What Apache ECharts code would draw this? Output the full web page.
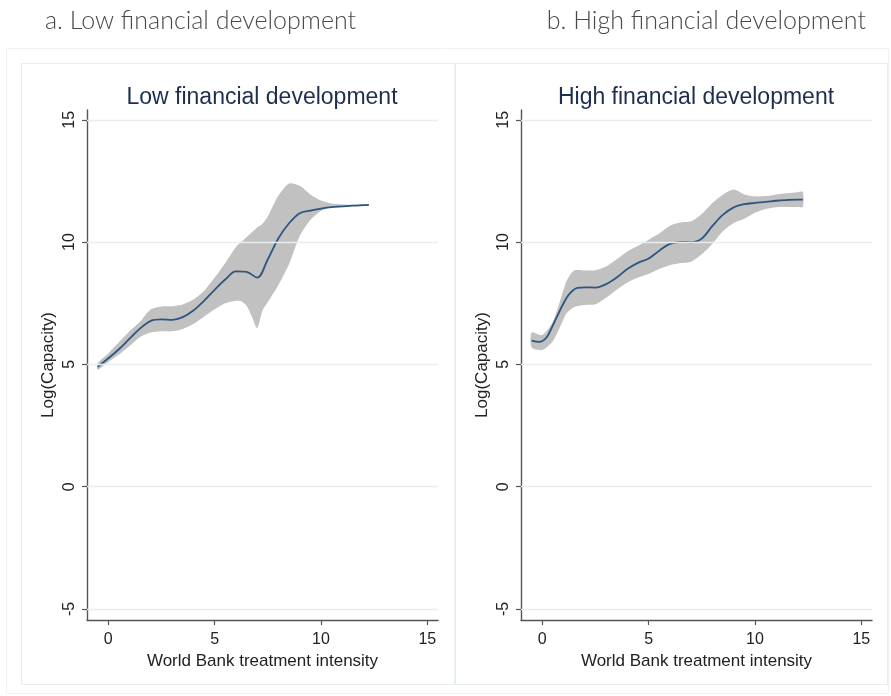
<!DOCTYPE html>
<html>
<head>
<meta charset="utf-8">
<script src="https://cdn.jsdelivr.net/npm/echarts@6/dist/echarts.min.js"></script>
<style>
  html, body { margin: 0; padding: 0; background: #ffffff; }
  #chart { width: 891px; height: 696px; }
</style>
</head>
<body>
<div id="chart"></div>
<script>
// Panel titles
const panelHeaders = ['a. Low financial development', 'b. High financial development'];
const panelTitles = ['Low financial development', 'High financial development'];
const xAxisTitle = 'World Bank treatment intensity';
const yAxisTitle = 'Log(Capacity)';
const xTicks = [0, 5, 10, 15];
const yTicks = [-5, 0, 5, 10, 15];

// Low financial development: fitted curve
const lowFitX = [-0.5, 0, 0.5, 1, 1.5, 2, 2.5, 3, 3.5, 4, 4.5, 5, 5.5, 6, 6.5, 7, 7.5, 8, 8.5, 9, 9.5, 10, 10.5, 11, 11.5, 12, 12.25];
const lowFitY = [4.9, 5.25, 5.62, 6.05, 6.47, 6.78, 6.84, 6.82, 6.93, 7.2, 7.6, 8.05, 8.47, 8.8, 8.78, 8.55, 9.3, 10.16, 10.77, 11.18, 11.29, 11.37, 11.43, 11.46, 11.49, 11.51, 11.52];
// Low financial development: confidence band
const lowBandX = [-0.5, 0, 0.5, 1, 1.5, 2, 2.5, 3, 3.5, 4, 4.5, 5, 5.5, 6, 6.25, 6.5, 6.75, 7, 7.25, 7.5, 8, 8.5, 9, 9.5, 10, 10.5, 11, 11.5, 12, 12.25];
const lowBandUpper = [5.05, 5.45, 5.9, 6.35, 6.75, 7.25, 7.37, 7.38, 7.45, 7.65, 8.0, 8.55, 9.15, 9.8, 10.0, 10.2, 10.4, 10.6, 10.75, 11.05, 11.9, 12.4, 12.3, 11.95, 11.7, 11.58, 11.54, 11.53, 11.54, 11.54];
const lowBandLower = [4.78, 5.1, 5.4, 5.75, 6.12, 6.3, 6.35, 6.35, 6.45, 6.65, 6.95, 7.25, 7.5, 7.6, 7.58, 7.4, 6.95, 6.48, 7.2, 7.55, 8.25, 9.1, 10.25, 10.9, 11.27, 11.43, 11.46, 11.48, 11.49, 11.5];

// High financial development: fitted curve
const highFitX = [-0.5, -0.15, 0.2, 0.5, 1, 1.3, 1.65, 2, 2.5, 3, 3.5, 4, 4.5, 5, 5.5, 6, 6.5, 7, 7.5, 8, 8.5, 9, 9.5, 10, 10.5, 11, 11.5, 12, 12.25];
const highFitY = [5.97, 5.92, 6.1, 6.6, 7.5, 7.9, 8.13, 8.15, 8.14, 8.28, 8.55, 8.9, 9.15, 9.33, 9.65, 9.93, 10.0, 9.99, 10.15, 10.66, 11.12, 11.42, 11.55, 11.6, 11.64, 11.69, 11.72, 11.74, 11.74];
// High financial development: confidence band
const highBandX = [-0.5, 0, 0.5, 1, 1.15, 1.5, 2, 2.5, 3, 3.5, 4, 4.5, 5, 5.5, 6, 6.5, 7, 7.5, 8, 8.5, 9, 9.5, 10, 10.5, 11, 11.5, 12, 12.25];
const highBandUpper = [6.3, 6.2, 6.75, 8.05, 8.43, 8.84, 8.84, 8.85, 9.0, 9.3, 9.62, 9.85, 10.1, 10.35, 10.67, 10.8, 10.85, 11.15, 11.6, 11.95, 12.15, 11.95, 11.87, 11.88, 11.95, 12.0, 12.04, 12.05];
const highBandLower = [5.69, 5.59, 5.96, 6.85, 7.1, 7.35, 7.43, 7.46, 7.72, 8.05, 8.35, 8.55, 8.7, 8.9, 9.05, 9.14, 9.2, 9.5, 9.93, 10.45, 10.78, 10.95, 11.2, 11.35, 11.42, 11.43, 11.43, 11.43];

const chart = echarts.init(document.getElementById('chart'), null, { renderer: 'canvas' });

const textColor = '#222222';
const axisColor = '#555555';
const gridColor = '#e6eef0';
const lineColor = '#2c5680';
const bandColor = '#c1c1c1';
const baseFont = '"Liberation Sans", Arial, sans-serif';
const headerFont = 'Lato, "Open Sans", sans-serif';

const plotLefts = [87, 521];

function makeXAxis(i) {
  return {
    type: 'value', gridIndex: i, min: -1.0, max: 15.5,
    name: xAxisTitle, nameLocation: 'middle', nameGap: 24,
    nameTextStyle: { color: textColor, fontSize: 17, fontFamily: baseFont },
    axisLine: { show: true, onZero: false, lineStyle: { color: axisColor, width: 1.4 } },
    axisTick: { show: true, customValues: xTicks, length: 5, lineStyle: { color: axisColor, width: 1.2 } },
    axisLabel: { customValues: xTicks, margin: 12, color: textColor, fontSize: 16, fontFamily: baseFont },
    splitLine: { show: false }
  };
}

function makeYAxis(i) {
  return {
    type: 'value', gridIndex: i, min: -5.45, max: 15.4,
    name: yAxisTitle, nameLocation: 'middle', nameGap: 30, nameRotate: 90,
    nameTextStyle: { color: textColor, fontSize: 17, fontFamily: baseFont },
    axisLine: { show: true, onZero: false, lineStyle: { color: axisColor, width: 1.4 } },
    axisTick: { show: true, customValues: yTicks, length: 5, lineStyle: { color: axisColor, width: 1.2 } },
    axisLabel: { customValues: yTicks, rotate: 90, margin: 9, color: textColor, fontSize: 16, fontFamily: baseFont },
    splitLine: { show: false }
  };
}

function bandSeries(i, xs, up, lo) {
  return {
    type: 'custom', xAxisIndex: i, yAxisIndex: i, silent: true, z: 2,
    data: xs.map((x, k) => [x, up[k], lo[k]]),
    encode: { x: 0, y: [1, 2] },
    renderItem: function (params, api) {
      if (params.dataIndex !== 0) return null;
      const pts = [];
      for (let k = 0; k < xs.length; k++) pts.push(api.coord([xs[k], up[k]]));
      for (let k = xs.length - 1; k >= 0; k--) pts.push(api.coord([xs[k], lo[k]]));
      return {
        type: 'polygon',
        shape: { points: pts, smooth: 0.25 },
        style: { fill: bandColor, stroke: null }
      };
    },
    clip: true
  };
}

function gridLineSeries(i) {
  return {
    type: 'line', xAxisIndex: i, yAxisIndex: i, data: [], z: 1, silent: true,
    markLine: {
      silent: true, symbol: ['none', 'none'], animation: false,
      label: { show: false },
      lineStyle: { color: gridColor, width: 1.3, type: 'solid' },
      data: yTicks.map(v => ({ yAxis: v }))
    }
  };
}

function fitSeries(i, xs, ys) {
  return {
    type: 'line', xAxisIndex: i, yAxisIndex: i, z: 3,
    data: xs.map((x, k) => [x, ys[k]]),
    smooth: 0.35, showSymbol: false, symbol: 'none',
    lineStyle: { color: lineColor, width: 1.8 },
    animation: false
  };
}

const option = {
  backgroundColor: '#ffffff',
  animation: false,
  graphic: [
    { type: 'rect', shape: { x: 6.5, y: 48.5, width: 882, height: 645 }, style: { fill: 'none', stroke: '#f0f3f4', lineWidth: 1 }, silent: true, z: -10 },
    { type: 'rect', shape: { x: 21.5, y: 63.5, width: 433, height: 621 }, style: { fill: '#ffffff', stroke: '#e8eef0', lineWidth: 1.2 }, silent: true, z: -9 },
    { type: 'rect', shape: { x: 455.5, y: 63.5, width: 432, height: 621 }, style: { fill: '#ffffff', stroke: '#e8eef0', lineWidth: 1.2 }, silent: true, z: -9 }
  ],
  title: [
    { text: panelHeaders[0], left: 40, top: 3, textStyle: { color: '#4a4a4a', fontSize: 25, fontWeight: 300, fontFamily: headerFont } },
    { text: panelHeaders[1], right: 20, top: 3, textStyle: { color: '#4a4a4a', fontSize: 25, fontWeight: 300, fontFamily: headerFont } },
    { text: panelTitles[0], left: 257, top: 81, textAlign: 'center', textStyle: { color: '#1d2e4e', fontSize: 23, fontWeight: 'normal', fontFamily: baseFont } },
    { text: panelTitles[1], left: 691, top: 81, textAlign: 'center', textStyle: { color: '#1d2e4e', fontSize: 23, fontWeight: 'normal', fontFamily: baseFont } }
  ],
  grid: [
    { left: plotLefts[0], top: 110, width: 351, height: 510 },
    { left: plotLefts[1], top: 110, width: 351, height: 510 }
  ],
  xAxis: [makeXAxis(0), makeXAxis(1)],
  yAxis: [makeYAxis(0), makeYAxis(1)],
  series: [
    gridLineSeries(0),
    bandSeries(0, lowBandX, lowBandUpper, lowBandLower),
    fitSeries(0, lowFitX, lowFitY),
    gridLineSeries(1),
    bandSeries(1, highBandX, highBandUpper, highBandLower),
    fitSeries(1, highFitX, highFitY)
  ]
};

chart.setOption(option);
</script>
</body>
</html>
